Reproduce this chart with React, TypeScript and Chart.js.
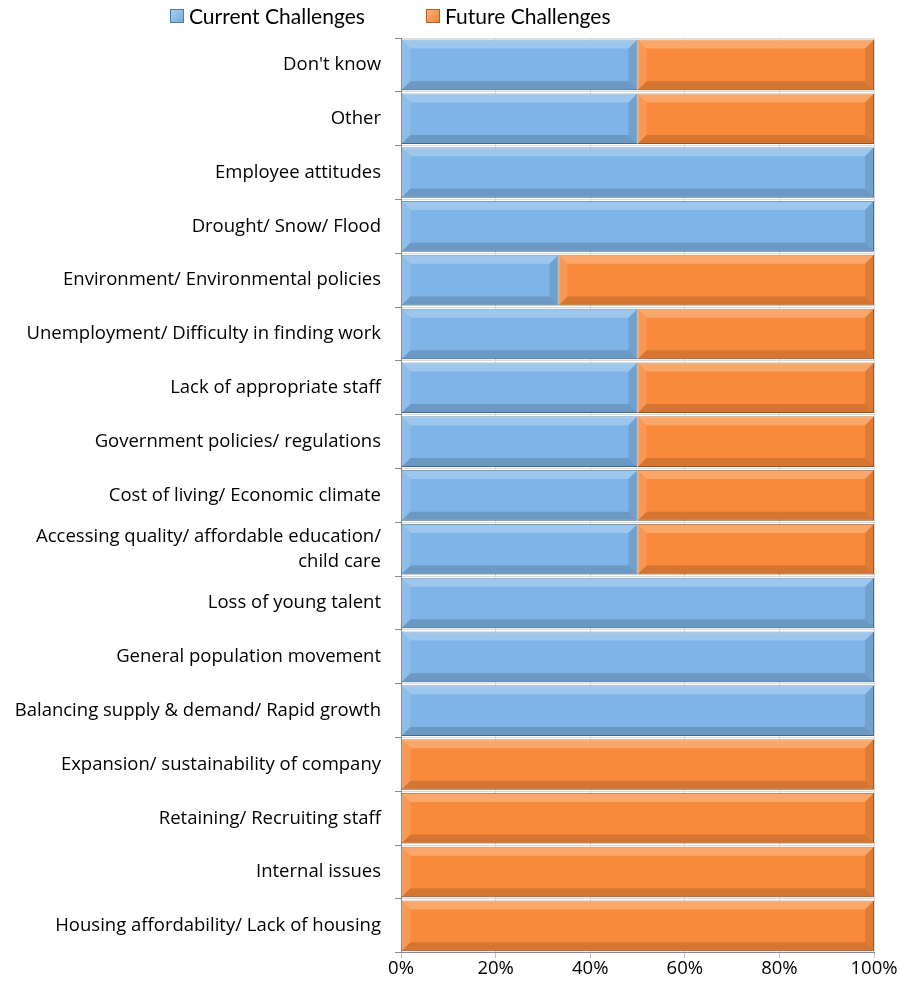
import React, { useEffect, useRef } from "react";
import { Chart, registerables } from "chart.js";

Chart.register(...registerables);

const categories: (string | string[])[] = [
  "Don't know",
  "Other",
  "Employee attitudes",
  "Drought/ Snow/ Flood",
  "Environment/ Environmental policies",
  "Unemployment/ Difficulty in finding work",
  "Lack of appropriate staff",
  "Government policies/ regulations",
  "Cost of living/ Economic climate",
  ["Accessing quality/ affordable education/", "child care"],
  "Loss of young talent",
  "General population movement",
  "Balancing supply & demand/ Rapid growth",
  "Expansion/ sustainability of company",
  "Retaining/ Recruiting staff",
  "Internal issues",
  "Housing affordability/ Lack of housing",
];

const currentValues = [50, 50, 100, 100, 33.3, 50, 50, 50, 50, 50, 100, 100, 100, 0, 0, 0, 0];
const futureValues = [50, 50, 0, 0, 66.7, 50, 50, 50, 50, 50, 0, 0, 0, 100, 100, 100, 100];
const seriesNames = ["Current Challenges", "Future Challenges"];
const seriesColors = ["#7EB4E7", "#F98A3B"];
const seriesBorders = ["#4E7CA8", "#B85F22"];
const xTicks = [0, 20, 40, 60, 80, 100];

const FONT = "'Open Sans', Lato, sans-serif";

const bevelPlugin = {
  id: "bevel",
  afterDatasetsDraw(chart: any) {
    const ctx = chart.ctx;
    chart.data.datasets.forEach((_ds: any, di: number) => {
      const meta = chart.getDatasetMeta(di);
      meta.data.forEach((bar: any) => {
        const p = bar.getProps(["x", "y", "base", "height"], true);
        const x0 = Math.min(p.x, p.base);
        const x1 = Math.max(p.x, p.base);
        if (x1 - x0 < 1) return;
        const y0 = p.y - p.height / 2;
        const y1 = p.y + p.height / 2;
        const b = Math.min(9, (x1 - x0) / 2, (y1 - y0) / 2);
        ctx.save();
        ctx.fillStyle = "rgba(255,255,255,0.25)";
        ctx.beginPath();
        ctx.moveTo(x0, y0); ctx.lineTo(x1, y0); ctx.lineTo(x1 - b, y0 + b); ctx.lineTo(x0 + b, y0 + b); ctx.closePath();
        ctx.fill();
        ctx.fillStyle = "rgba(255,255,255,0.12)";
        ctx.beginPath();
        ctx.moveTo(x0, y0); ctx.lineTo(x0 + b, y0 + b); ctx.lineTo(x0 + b, y1 - b); ctx.lineTo(x0, y1); ctx.closePath();
        ctx.fill();
        ctx.fillStyle = "rgba(0,0,0,0.15)";
        ctx.beginPath();
        ctx.moveTo(x0, y1); ctx.lineTo(x0 + b, y1 - b); ctx.lineTo(x1 - b, y1 - b); ctx.lineTo(x1, y1); ctx.closePath();
        ctx.fill();
        ctx.fillStyle = "rgba(0,0,0,0.10)";
        ctx.beginPath();
        ctx.moveTo(x1, y0); ctx.lineTo(x1, y1); ctx.lineTo(x1 - b, y1 - b); ctx.lineTo(x1 - b, y0 + b); ctx.closePath();
        ctx.fill();
        ctx.restore();
      });
    });
  },
};

function LegendItem({ color, border, text, left }: { color: string; border: string; text: string; left: number }) {
  return (
    <div
      style={{
        position: "absolute",
        left,
        top: 3,
        display: "flex",
        alignItems: "center",
        fontFamily: "Lato, sans-serif",
        fontSize: 21,
        color: "#000",
        whiteSpace: "nowrap",
      }}
    >
      <span
        style={{
          display: "inline-block",
          width: 12,
          height: 12,
          background: `linear-gradient(135deg, rgba(255,255,255,0.35), rgba(0,0,0,0.05)), ${color}`,
          border: `1px solid ${border}`,
          marginRight: 5,
        }}
      />
      <span>{text}</span>
    </div>
  );
}

export default function App() {
  const ref = useRef<HTMLCanvasElement>(null);
  useEffect(() => {
    document.body.style.margin = "0";
    const chart = new Chart(ref.current!, {
      type: "bar",
      data: {
        labels: categories,
        datasets: seriesNames.map((name, i) => ({
          label: name,
          data: i === 0 ? currentValues : futureValues,
          backgroundColor: seriesColors[i],
          borderColor: seriesBorders[i],
          borderWidth: 1,
          borderSkipped: false,
          barPercentage: 0.94,
          categoryPercentage: 1,
        })),
      },
      options: {
        indexAxis: "y",
        animation: false,
        responsive: false,
        maintainAspectRatio: false,
        layout: { padding: { left: 0, right: 26, top: 38, bottom: 9 } },
        plugins: {
          legend: { display: false },
          tooltip: { enabled: false },
        },
        scales: {
          x: {
            stacked: true,
            min: 0,
            max: 100,
            ticks: {
              stepSize: 20,
              callback: (v: any) => (xTicks.includes(Number(v)) ? v + "%" : ""),
              font: { family: FONT, size: 18.5 },
              color: "#000",
              padding: 0,
            },
            grid: { color: "#D9D9D9", tickColor: "#BFBFBF", tickLength: 5, drawTicks: true },
            border: { color: "#898989" },
          },
          y: {
            stacked: true,
            ticks: {
              font: { family: FONT, size: 18.5, lineHeight: 1.35 },
              color: "#000",
              padding: 14,
            },
            grid: { color: "#D9D9D9", tickColor: "#898989", tickLength: 6, offset: true },
            border: { color: "#898989" },
            afterFit: (scale: any) => {
              scale.width = 401;
            },
          },
        },
      },
      plugins: [bevelPlugin],
    });
    return () => chart.destroy();
  }, []);
  return (
    <div style={{ position: "relative", width: 900, height: 989 }}>
      <canvas ref={ref} width={900} height={989} style={{ display: "block" }} />
      <LegendItem color={seriesColors[0]} border={seriesBorders[0]} text={seriesNames[0]} left={170} />
      <LegendItem color={seriesColors[1]} border={seriesBorders[1]} text={seriesNames[1]} left={426} />
    </div>
  );
}
